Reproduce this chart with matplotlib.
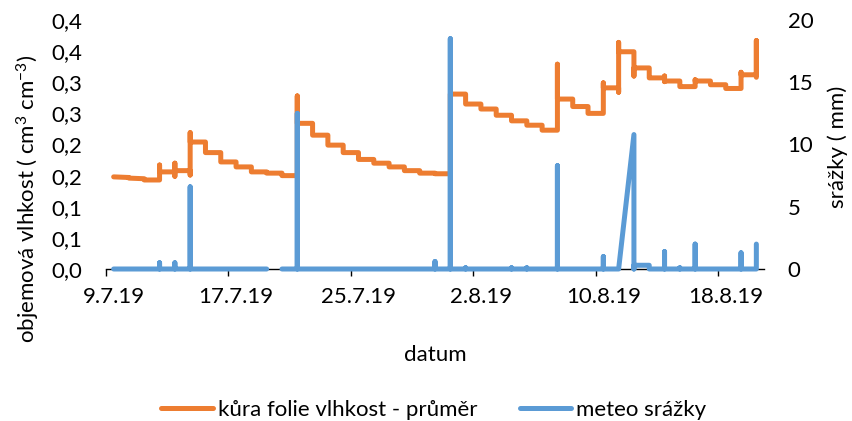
import numpy as np
import matplotlib
matplotlib.use('Agg')
import matplotlib.pyplot as plt

plt.rcParams['font.family'] = ['Lato', 'DejaVu Sans']
plt.rcParams['mathtext.fontset'] = 'custom'
plt.rcParams['mathtext.rm'] = 'Lato'
plt.rcParams['mathtext.it'] = 'Lato:italic'

# first day of the series, one entry per day below (values in logging order)
start = np.datetime64('2019-07-09T00:00')

# soil moisture under the foil, cm3/cm3
vlhkost = [
    [0.148], [0.147, 0.146], [0.145, 0.143], [0.143, 0.167, 0.156],
    [0.156, 0.170, 0.149, 0.158], [0.158, 0.151, 0.219, 0.204],
    [0.204, 0.187], [0.187, 0.172], [0.172, 0.164], [0.164, 0.156],
    [0.156, 0.154], [0.154, 0.150], [0.150, 0.278, 0.234],
    [0.234, 0.215], [0.215, 0.199], [0.199, 0.187], [0.187, 0.176],
    [0.176, 0.170], [0.170, 0.164], [0.164, 0.158], [0.158, 0.154],
    [0.154, 0.153], [0.153, 0.281], [0.281, 0.265], [0.265, 0.257],
    [0.257, 0.247], [0.247, 0.238], [0.238, 0.231], [0.231, 0.223],
    [0.223, 0.329, 0.273], [0.273, 0.261], [0.261, 0.250],
    [0.250, 0.299, 0.291], [0.291, 0.284, 0.364, 0.349],
    [0.349, 0.310, 0.323], [0.323, 0.310, 0.307],
    [0.307, 0.310, 0.301, 0.302], [0.302, 0.295, 0.293],
    [0.293, 0.304, 0.302], [0.302, 0.296], [0.296, 0.290],
    [0.290, 0.316, 0.312], [0.312, 0.367, 0.308],
]

# precipitation from the weather station, mm (nan = missing record)
srazky = [
    [0], [0], [0], [0, 0.5, 0], [0, 0.5, 0], [0, 6.6, 0],
    [0], [0], [0], [0], [0], [np.nan, 0], [0, 12.5, 0],
    [0], [0], [0], [0], [0], [0], [0], [0],
    [0, 0.6, 0], [0, 18.5, 0], [0, 0.1, 0], [0], [0],
    [0, 0.1, 0], [0, 0.1, 0], [0], [0, 8.3, 0], [0], [0],
    [0, 1.0, 0], [0], [10.8, 0, 0.3], [0.3, 0], [0, 1.4, 0],
    [0, 0.1, 0], [0, 2.0, 0], [0], [0], [0, 1.3, 0], [0, 2.0],
]

datum_popisky = ['9.7.19', '17.7.19', '25.7.19', '2.8.19', '10.8.19', '18.8.19']
datum_dny = [0, 8, 16, 24, 32, 40]
vlhkost_ticks = [0, 0.05, 0.1, 0.15, 0.2, 0.25, 0.3, 0.35, 0.4]
vlhkost_popisky = ['0,0', '0,1', '0,1', '0,2', '0,2', '0,3', '0,3', '0,4', '0,4']
srazky_ticks = [0, 5, 10, 15, 20]


def rozbal(po_dnech):
    # every value of a day sits on that day's date
    x, y = [], []
    for den, hodnoty in enumerate(po_dnech):
        for h in hodnoty:
            x.append(start + np.timedelta64(den, 'D'))
            y.append(h)
    return np.array(x), np.array(y, dtype=float)


x_v, y_v = rozbal(vlhkost)
x_s, y_s = rozbal(srazky)

oranzova = '#ED7D31'
modra = '#5B9BD5'
fs = 16

fig = plt.figure(figsize=(8.52, 4.21), dpi=100)
ax = fig.add_axes([106 / 852, 1 - 269 / 421, 658 / 852, 249 / 421])
ax2 = ax.twinx()

l1, = ax.plot(x_v, y_v, color=oranzova, lw=3.6, solid_capstyle='round',
              solid_joinstyle='round', clip_on=False,
              label='kůra folie vlhkost - průměr')
l2, = ax2.plot(x_s, y_s, color=modra, lw=3.6, solid_capstyle='round',
               solid_joinstyle='round', clip_on=False, label='meteo srážky')

half = np.timedelta64(12, 'h')
ax.set_xlim(start - half, start + np.timedelta64(42, 'D') + half)
ax.set_ylim(0, 0.4)
ax2.set_ylim(0, 20)

# labels in the middle of a day, tick marks on the day borders
ax.set_xticks([start + np.timedelta64(d, 'D') for d in datum_dny])
ax.set_xticklabels(datum_popisky)
ax.set_xticks([start + np.timedelta64(d, 'D') - half for d in datum_dny], minor=True)
ax.tick_params(axis='x', which='major', length=0, pad=13, labelsize=fs)
ax.tick_params(axis='x', which='minor', length=5, width=1, direction='out', color='black')

ax.set_yticks(vlhkost_ticks)
ax.set_yticklabels(vlhkost_popisky)
ax.tick_params(axis='y', length=0, pad=17, labelsize=fs)
ax2.set_yticks(srazky_ticks)
ax2.tick_params(axis='y', length=0, pad=17, labelsize=fs)

for s in ['top', 'left', 'right']:
    ax.spines[s].set_visible(False)
    ax2.spines[s].set_visible(False)
ax2.spines['bottom'].set_visible(False)
ax.spines['bottom'].set_color('black')
ax.spines['bottom'].set_linewidth(1)

fig.text(435 / 852, 1 - 355 / 421, 'datum', ha='center', va='center', fontsize=fs)
fig.text(28 / 852, 1 - 199 / 421, r'objemová vlhkost ( cm$^{3}$ cm$^{-3}$)',
         rotation=90, ha='center', va='center', fontsize=fs)
fig.text(838 / 852, 1 - 147 / 421, 'srážky ( mm)', rotation=90,
         ha='center', va='center', fontsize=fs)

fig.legend(handles=[l1, l2], loc='center', bbox_to_anchor=(434 / 852, 1 - 410 / 421),
           ncol=2, frameon=False, fontsize=fs, handlelength=2.3,
           handletextpad=0.25, columnspacing=1.9)

fig.savefig('out.png', dpi=100)
